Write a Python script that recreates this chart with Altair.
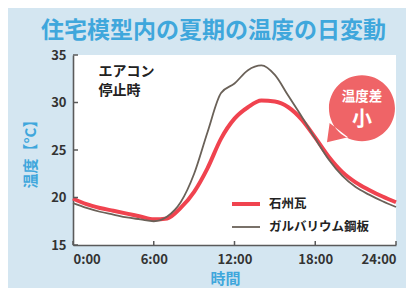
import altair as alt
import pandas as pd

hours = list(range(25))
sekishu = [19.9, 19.3, 18.9, 18.6, 18.3, 18.0, 17.7, 17.8, 18.9, 20.6, 23.1, 26.2, 28.3,
           29.5, 30.2, 30.1, 29.5, 28.2, 26.3, 24.3, 22.7, 21.6, 20.8, 20.1, 19.5]
galva = [19.4, 18.9, 18.5, 18.2, 17.9, 17.7, 17.5, 18.0, 19.5, 22.5, 26.9, 31.0, 32.0,
         33.4, 33.9, 32.9, 30.7, 28.5, 26.2, 24.0, 22.3, 21.1, 20.3, 19.6, 19.0]
series_names = ["石州瓦", "ガルバリウム鋼板"]
series_colors = ["#f0434f", "#6a6158"]
series_widths = [4.0, 1.8]
y_ticks = [15, 20, 25, 30, 35]
x_ticks = [0, 6, 12, 18, 24]

FONT = "Noto Sans CJK JP"
BLUE = "#3fa7dc"
AXIS = "#5a5a5a"
BUBBLE = "#ef6467"

rows = []
for name, vals in zip(series_names, [sekishu, galva]):
    for h, v in zip(hours, vals):
        rows.append({"hour": h, "temp": v, "series": name})
df = pd.DataFrame(rows)

xscale = alt.Scale(domain=[0, 24], nice=False)
yscale = alt.Scale(domain=[15, 35], nice=False, zero=False)

legend = alt.Legend(
    orient="none", legendX=157, legendY=133, title=None, symbolType="stroke",
    symbolSize=784, labelFont=FONT, labelFontSize=12.5, labelFontWeight="bold",
    labelColor="#222222", labelOffset=7, rowPadding=-15, padding=0,
)

lines = alt.Chart(df).mark_line(interpolate="monotone").encode(
    x=alt.X("hour:Q", scale=xscale, axis=alt.Axis(
        values=x_ticks, labelExpr="datum.value + ':00'", title="時間",
        labelFlush=True, tickSize=0, grid=False, domainColor=AXIS, domainWidth=1.6,
        labelFont=FONT, labelFontSize=13, labelFontWeight="bold", labelColor="#333333",
        labelPadding=8, titleFont=FONT, titleFontSize=15, titleFontWeight="bold",
        titleColor=BLUE, titlePadding=5, titleX=152)),
    y=alt.Y("temp:Q", scale=yscale, axis=alt.Axis(
        values=y_ticks, title="温度【°C】", tickSize=0, grid=False,
        domainColor=AXIS, domainWidth=1.6, labelFont=FONT, labelFontSize=13,
        labelFontWeight="bold", labelColor="#333333", labelPadding=7,
        titleFont=FONT, titleFontSize=15, titleFontWeight="bold", titleColor=BLUE,
        titlePadding=12)),
    color=alt.Color("series:N", scale=alt.Scale(domain=series_names, range=series_colors),
                    legend=legend),
    strokeWidth=alt.StrokeWidth("series:N", scale=alt.Scale(type="ordinal", domain=series_names,
                                range=series_widths), legend=legend),
)

ytick_df = pd.DataFrame({"temp": y_ticks})
xtick_df = pd.DataFrame({"hour": x_ticks})
yticks = alt.Chart(ytick_df).mark_rule(color=AXIS, strokeWidth=1.5).encode(
    y=alt.Y("temp:Q", scale=yscale), x=alt.value(0), x2=alt.value(5))
xticks = alt.Chart(xtick_df).mark_rule(color=AXIS, strokeWidth=1.5).encode(
    x=alt.X("hour:Q", scale=xscale), y=alt.value(190), y2=alt.value(186))

note = alt.Chart(pd.DataFrame({"t": ["エアコン\n停止時"], "hour": [1.9], "temp": [33.9]})).mark_text(
    font=FONT, fontSize=14, fontWeight="bold", color="#222222", align="left",
    baseline="top", lineBreak="\n", lineHeight=19).encode(
    x=alt.X("hour:Q", scale=xscale), y=alt.Y("temp:Q", scale=yscale), text="t:N")

bubble_path = ("M 1 0 A 1 1 0 1 1 -1 0 A 1 1 0 1 1 1 0 Z "
               "M -0.98 0.45 L -1.06 1.03 L -0.42 0.88 Z")
bubble = alt.Chart(pd.DataFrame({"hour": [21.47], "temp": [29.4]})).mark_point(
    shape=bubble_path, filled=True, color=BUBBLE, opacity=1, size=4356, strokeWidth=0).encode(
    x=alt.X("hour:Q", scale=xscale), y=alt.Y("temp:Q", scale=yscale))

bt1 = alt.Chart(pd.DataFrame({"t": ["温度差"], "hour": [21.47], "temp": [30.6]})).mark_text(
    font=FONT, fontSize=13.5, fontWeight="bold", color="white").encode(
    x=alt.X("hour:Q", scale=xscale), y=alt.Y("temp:Q", scale=yscale), text="t:N")
bt2 = alt.Chart(pd.DataFrame({"t": ["小"], "hour": [21.47], "temp": [28.2]})).mark_text(
    font=FONT, fontSize=20, fontWeight="bold", color="white").encode(
    x=alt.X("hour:Q", scale=xscale), y=alt.Y("temp:Q", scale=yscale), text="t:N")

chart = alt.layer(lines, yticks, xticks, note, bubble, bt1, bt2).properties(
    width=323, height=190,
    autosize=alt.AutoSizeParams(type="none"),
    padding={"left": 65, "top": 47, "right": 10, "bottom": 43},
    background="#d4e6f1",
    title=alt.TitleParams("住宅模型内の夏期の温度の日変動", font=FONT, fontSize=23,
                          fontWeight="bold", color=BLUE, offset=6, dx=-21, anchor="middle"),
).configure_view(fill="white", stroke=None)

chart.save("out.html", embed_options={"renderer": "svg", "actions": False})
